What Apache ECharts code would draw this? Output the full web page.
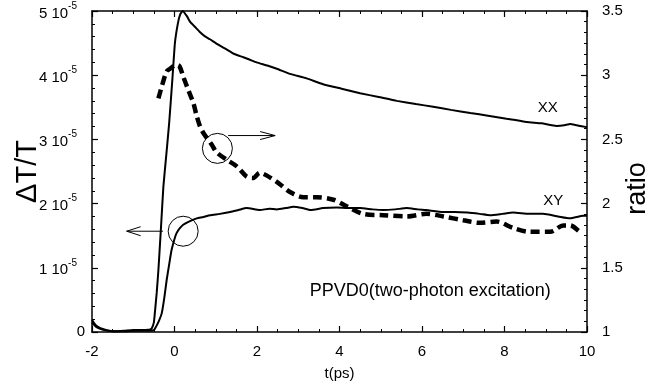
<!DOCTYPE html>
<html>
<head>
<meta charset="utf-8">
<script src="https://cdn.jsdelivr.net/npm/echarts@6/dist/echarts.min.js"></script>
<style>html,body{margin:0;padding:0;background:#fff}#c{width:647px;height:382px}</style>
</head>
<body>
<div id="c"></div>
<script>
// time axis (ps)
var xTicks = [-2, 0, 2, 4, 6, 8, 10];
// Delta T / T, in units of 1e-5 (left axis)
var leftTicks = [0, 1, 2, 3, 4, 5];
var rightTicks = [1, 1.5, 2, 2.5, 3, 3.5];

var tXX = [-2, -1.95, -1.9, -1.8, -1.7, -1.6, -1.4, -1.2, -1.0, -0.8, -0.6, -0.55, -0.5, -0.47, -0.43, -0.39, -0.33, -0.27, -0.2, -0.13, -0.05, 0.01, 0.08, 0.14, 0.2, 0.3, 0.38, 0.5, 0.62, 0.75, 0.86, 1.05, 1.27, 1.45, 1.67, 1.83, 1.99, 2.25, 2.48, 2.8, 3.2, 3.6, 4.05, 4.5, 4.95, 5.39, 5.85, 6.27, 6.7, 7.17, 7.6, 8.05, 8.3, 8.54, 8.9, 9.26, 9.45, 9.59, 9.75, 9.91, 10];
var xx = [0.19, 0.14, 0.10, 0.06, 0.04, 0.02, 0.01, 0.02, 0.03, 0.03, 0.04, 0.06, 0.15, 0.34, 0.62, 0.97, 1.6, 2.26, 2.75, 3.25, 3.95, 4.5, 4.8, 4.95, 5.0, 4.92, 4.83, 4.75, 4.67, 4.6, 4.56, 4.48, 4.4, 4.33, 4.28, 4.24, 4.2, 4.15, 4.1, 4.02, 3.95, 3.86, 3.79, 3.72, 3.66, 3.6, 3.55, 3.51, 3.46, 3.41, 3.37, 3.32, 3.30, 3.27, 3.25, 3.21, 3.22, 3.24, 3.22, 3.20, 3.19];

var tXY = [-2, -1.95, -1.9, -1.8, -1.7, -1.6, -1.4, -1.2, -1.0, -0.8, -0.6, -0.5, -0.45, -0.38, -0.31, -0.25, -0.19, -0.13, -0.07, 0.0, 0.05, 0.12, 0.21, 0.35, 0.54, 0.7, 0.86, 1.1, 1.35, 1.55, 1.75, 2.07, 2.3, 2.48, 2.7, 2.88, 3.1, 3.3, 3.6, 3.93, 4.2, 4.5, 4.8, 5.06, 5.35, 5.63, 5.9, 6.1, 6.52, 6.8, 7.1, 7.4, 7.65, 7.95, 8.21, 8.6, 8.93, 9.3, 9.59, 9.91, 10];
var xy = [0.15, 0.11, 0.08, 0.05, 0.03, 0.02, 0.01, 0.01, 0.02, 0.02, 0.02, 0.03, 0.08, 0.17, 0.29, 0.52, 0.81, 1.05, 1.28, 1.45, 1.54, 1.61, 1.67, 1.72, 1.77, 1.79, 1.82, 1.84, 1.87, 1.9, 1.93, 1.9, 1.92, 1.91, 1.93, 1.95, 1.93, 1.90, 1.93, 1.94, 1.93, 1.93, 1.91, 1.90, 1.91, 1.93, 1.91, 1.9, 1.87, 1.87, 1.86, 1.84, 1.82, 1.84, 1.86, 1.84, 1.84, 1.80, 1.77, 1.81, 1.81];

// ratio (right axis)
var tRatio = [-0.39, -0.31, -0.19, -0.11, 0.04, 0.12, 0.21, 0.34, 0.46, 0.54, 0.62, 0.7, 0.9, 1.02, 1.27, 1.51, 1.75, 1.91, 2.07, 2.23, 2.52, 2.8, 3.12, 3.45, 3.85, 4.17, 4.58, 5.06, 5.63, 6.11, 6.52, 7.0, 7.41, 7.81, 8.21, 8.62, 9.1, 9.43, 9.59, 9.83, 9.9];
var ratio = [2.82, 2.91, 3.03, 3.05, 3.08, 3.07, 2.99, 2.88, 2.78, 2.68, 2.6, 2.55, 2.46, 2.4, 2.34, 2.29, 2.21, 2.2, 2.24, 2.22, 2.16, 2.09, 2.05, 2.05, 2.03, 1.98, 1.92, 1.91, 1.90, 1.92, 1.90, 1.87, 1.85, 1.86, 1.81, 1.78, 1.78, 1.83, 1.83, 1.78, 1.77];

function pairs(t, v) { return t.map(function (x, i) { return [x, v[i]]; }); }

var FONT = '"Liberation Sans", Arial, sans-serif';
var chart = echarts.init(document.getElementById('c'));

var axisCommon = {
  axisLine: { show: true, onZero: false, lineStyle: { color: '#000', width: 1.5 } },
  axisTick: { show: true, inside: true, length: 6, lineStyle: { color: '#000', width: 1.2 } },
  minorTick: { show: true, length: 3, lineStyle: { color: '#000', width: 1 } },
  splitLine: { show: false },
  nameMoveOverlap: false
};

chart.setOption({
  animation: false,
  backgroundColor: '#fff',
  grid: { left: 92, right: 60, top: 11, bottom: 50, containLabel: false, outerBoundsMode: 'none' },
  xAxis: [
    Object.assign({}, axisCommon, {
      type: 'value', min: -2, max: 10, interval: 2,
      name: 't(ps)', nameLocation: 'middle', nameGap: 34,
      nameTextStyle: { fontFamily: FONT, fontSize: 15, color: '#000' },
      minorTick: { show: true, splitNumber: 4, length: 3, lineStyle: { color: '#000', width: 1 } },
      axisLabel: { fontFamily: FONT, fontSize: 15, color: '#000', margin: 12,
        formatter: function (v) { return xTicks.indexOf(v) >= 0 ? String(v) : ''; } }
    }),
    Object.assign({}, axisCommon, {
      type: 'value', min: -2, max: 10, interval: 2, position: 'top',
      minorTick: { show: true, splitNumber: 4, length: 3, lineStyle: { color: '#000', width: 1 } },
      axisLabel: { show: false }
    })
  ],
  yAxis: [
    Object.assign({}, axisCommon, {
      type: 'value', min: 0, max: 5, interval: 1, position: 'left',
      name: 'ΔT/T', nameLocation: 'middle', nameGap: 50, nameRotate: 90,
      nameTextStyle: { fontFamily: FONT, fontSize: 29, color: '#000' },
      minorTick: { show: true, splitNumber: 5, length: 3, lineStyle: { color: '#000', width: 1 } },
      axisLabel: {
        fontFamily: FONT, fontSize: 15, color: '#000', margin: 15,
        formatter: function (v) {
          if (leftTicks.indexOf(v) < 0) return '';
          if (v === 0) return '{z|0}';
          return '{m|' + v + ' 10}{s|-5}';
        },
        rich: {
          m: { fontFamily: FONT, fontSize: 15, color: '#000', lineHeight: 20, verticalAlign: 'bottom' },
          s: { fontFamily: FONT, fontSize: 10, color: '#000', lineHeight: 20, verticalAlign: 'top' },
          z: { fontFamily: FONT, fontSize: 15, color: '#000', lineHeight: 20, padding: [0, -8, 0, 0] }
        }
      }
    }),
    Object.assign({}, axisCommon, {
      type: 'value', min: 1, max: 3.5, interval: 0.5, position: 'right',
      name: 'ratio', nameLocation: 'middle', nameGap: 37, nameRotate: 90,
      nameTextStyle: { fontFamily: FONT, fontSize: 27, color: '#000', padding: [0, 0, 0, -34] },
      minorTick: { show: true, splitNumber: 6, length: 3, lineStyle: { color: '#000', width: 1 } },
      axisLabel: { fontFamily: FONT, fontSize: 15, color: '#000', margin: 15,
        formatter: function (v) { return rightTicks.indexOf(v) >= 0 ? String(v) : ''; } }
    })
  ],
  series: [
    { name: 'XX', type: 'line', xAxisIndex: 0, yAxisIndex: 0, data: pairs(tXX, xx), showSymbol: false, smooth: 0.15,
      lineStyle: { color: '#000', width: 2 } },
    { name: 'XY', type: 'line', xAxisIndex: 0, yAxisIndex: 0, data: pairs(tXY, xy), showSymbol: false, smooth: 0.2,
      lineStyle: { color: '#000', width: 2 } },
    { name: 'ratio', type: 'line', xAxisIndex: 0, yAxisIndex: 1, data: pairs(tRatio, ratio), showSymbol: false, smooth: 0.3,
      lineStyle: { color: '#000', width: 4.5, type: [9, 5], cap: 'butt' } }
  ]
});

// annotations positioned through the chart's own scales
function P(x, y, yi) { return chart.convertToPixel({ xAxisIndex: 0, yAxisIndex: yi }, [x, y]); }
var c1 = P(1.04, 2.43, 1), c2 = P(0.21, 1.57, 0);
var a1s = P(1.30, 2.53, 1), a1e = P(2.44, 2.53, 1);
var a2s = P(-0.28, 1.57, 0), a2e = P(-1.16, 1.57, 0);
var lXX = P(9.05, 3.49, 0), lXY = P(9.18, 2.04, 0), lT = P(6.2, 0.64, 0);
var ls = { stroke: '#000', lineWidth: 1, fill: null };
chart.setOption({
  graphic: [
    { type: 'circle', shape: { cx: c1[0], cy: c1[1], r: 15 }, style: ls, z: 10 },
    { type: 'circle', shape: { cx: c2[0], cy: c2[1], r: 15 }, style: ls, z: 10 },
    { type: 'line', shape: { x1: a1s[0], y1: a1s[1], x2: a1e[0], y2: a1e[1] }, style: ls, z: 10 },
    { type: 'polyline', shape: { points: [[a1e[0] - 15, a1e[1] - 4], [a1e[0], a1e[1]], [a1e[0] - 15, a1e[1] + 4]] }, style: ls, z: 10 },
    { type: 'line', shape: { x1: a2s[0], y1: a2s[1], x2: a2e[0], y2: a2e[1] }, style: ls, z: 10 },
    { type: 'polyline', shape: { points: [[a2e[0] + 14, a2e[1] - 4.5], [a2e[0], a2e[1]], [a2e[0] + 14, a2e[1] + 4.5]] }, style: ls, z: 10 },
    { type: 'text', x: lXX[0], y: lXX[1], style: { text: 'XX', font: '15px ' + FONT, fill: '#000', textAlign: 'center', textVerticalAlign: 'middle' }, z: 10 },
    { type: 'text', x: lXY[0], y: lXY[1], style: { text: 'XY', font: '15px ' + FONT, fill: '#000', textAlign: 'center', textVerticalAlign: 'middle' }, z: 10 },
    { type: 'text', x: lT[0], y: lT[1], style: { text: 'PPVD0(two-photon excitation)', font: '18px ' + FONT, fill: '#000', textAlign: 'center', textVerticalAlign: 'middle' }, z: 10 }
  ]
});
</script>
</body>
</html>
